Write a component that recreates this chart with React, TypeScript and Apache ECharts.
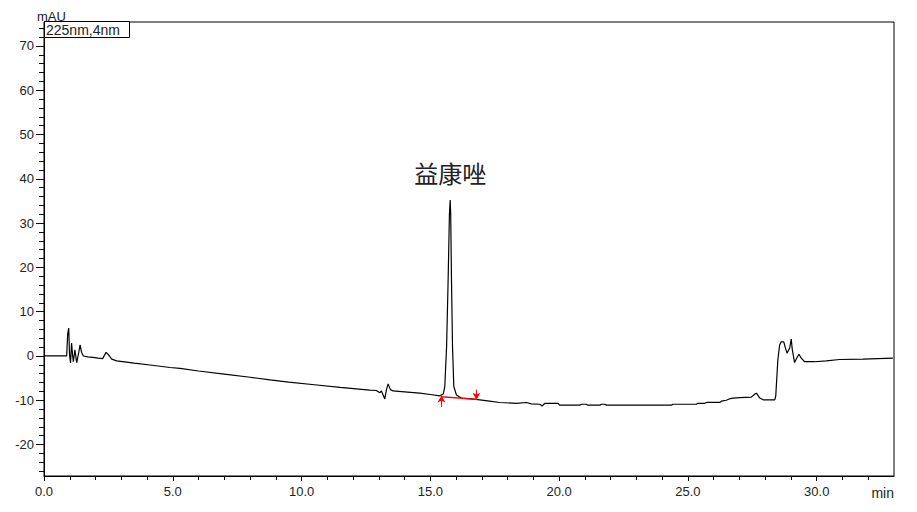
import React, { useEffect, useRef } from "react";
import * as echarts from "echarts";

// Chromatogram trace: [time (min), absorbance (mAU)]
const trace: [number, number][] = [
  [0, 0], [0.5, 0], [0.88, 0], [0.92, 5.0], [0.96, 6.3], [0.99, 0.5], [1.03, -1.6],
  [1.07, 2.9], [1.11, 0.2], [1.14, -1.3], [1.2, 1.4], [1.27, -1.5], [1.34, 0.5],
  [1.4, 2.5], [1.46, 0.8], [1.53, 0.0], [1.7, -0.2], [1.9, -0.3], [2.1, -0.5],
  [2.28, -0.6], [2.35, 0.2], [2.41, 0.8], [2.5, 0.3], [2.63, -0.7], [2.82, -1.1],
  [3.5, -1.6], [4.2, -2.1], [4.89, -2.6], [5.28, -2.8], [6.0, -3.4], [7.0, -4.1],
  [8.0, -4.8], [8.77, -5.4], [9.5, -5.9], [10.5, -6.5], [11.5, -7.1], [12.65, -7.7],
  [12.9, -7.8], [13.04, -8.3], [13.1, -7.9], [13.23, -9.7], [13.3, -7.5], [13.36, -6.3],
  [13.45, -7.6], [13.55, -7.9], [14.0, -8.1], [14.59, -8.4], [15.0, -8.7], [15.37, -9.0],
  [15.5, -8.6], [15.56, -6.9], [15.63, 2.1], [15.69, 17.2], [15.74, 32.0], [15.77, 35.2],
  [15.79, 32.0], [15.82, 17.2], [15.86, 2.1], [15.91, -6.9], [16.01, -8.8], [16.2, -9.5],
  [16.6, -9.7], [16.92, -9.9], [17.3, -10.2], [17.69, -10.5], [18.34, -10.7], [18.73, -10.5],
  [18.92, -10.8], [19.25, -10.9], [19.34, -11.3], [19.44, -10.7], [19.96, -10.7],
  [20.02, -11.1], [20.8, -11.1], [20.87, -10.9], [21.06, -10.9], [21.1, -11.1],
  [21.58, -11.1], [21.64, -10.9], [21.77, -10.9], [21.84, -11.1], [24.36, -11.1],
  [24.42, -10.9], [25.33, -10.9], [25.38, -10.7], [25.65, -10.7], [25.72, -10.5],
  [26.23, -10.5], [26.3, -10.2], [26.49, -10.0], [26.6, -9.7], [26.75, -9.5], [27.01, -9.4],
  [27.46, -9.3], [27.6, -8.6], [27.66, -8.4], [27.79, -9.5], [27.92, -9.9], [28.37, -9.9],
  [28.41, -9.0], [28.49, -0.9], [28.56, 2.5], [28.62, 3.2], [28.72, 3.2], [28.8, 1.5],
  [28.85, 0.6], [28.95, 1.8], [29.01, 3.8], [29.05, 1.5], [29.14, -1.5], [29.22, -0.5],
  [29.31, 0.4], [29.4, -0.5], [29.53, -1.3], [29.92, -1.3], [30.37, -1.1], [30.89, -0.8],
  [31.79, -0.7], [32.96, -0.5],
];

// Integration baseline of the labelled peak: start and end [time, mAU]
const integStart: [number, number] = [15.43, -9.2];
const integEnd: [number, number] = [16.79, -9.8];

const peakName = "益康唑";
const peakTime = 15.77;
const peakLabelValue = 41.5;

const xMajorTicks = [0, 5, 10, 15, 20, 25, 30];
const xMinorTicks = [1, 2, 3, 4, 6, 7, 8, 9, 11, 12, 13, 14, 16, 17, 18, 19, 21, 22, 23, 24, 26, 27, 28, 29, 31, 32];
const yMajorTicks = [-20, -10, 0, 10, 20, 30, 40, 50, 60, 70];
const yMinorTicks = [-26, -24, -22, -18, -16, -14, -12, -8, -6, -4, -2, 2, 4, 6, 8, 12, 14, 16, 18, 22, 24, 26, 28, 32, 34, 36, 38, 42, 44, 46, 48, 52, 54, 56, 58, 62, 64, 66, 68, 72, 74];

const X_MIN = 0;
const X_MAX = 33;
const Y_MIN = -27.1;
const Y_MAX = 75.4;

const FONT = "'Liberation Sans', Arial, sans-serif";

export default function App() {
  const ref = useRef<HTMLDivElement>(null);
  useEffect(() => {
    document.body.style.margin = "0";
    if (!ref.current) return;
    const chart = echarts.init(ref.current, undefined, { renderer: "svg" });
    chart.setOption({
      animation: false,
      backgroundColor: "#fff",
      textStyle: { fontFamily: FONT },
      grid: {
        left: 44,
        right: 23,
        top: 22,
        bottom: 36,
        show: true,
        borderColor: "#000",
        borderWidth: 1,
        backgroundColor: "transparent",
      },
      xAxis: [
        {
          type: "value",
          min: X_MIN,
          max: X_MAX,
          position: "bottom",
          splitLine: { show: false },
          axisLine: { onZero: false, lineStyle: { color: "#000", width: 1 } },
          axisTick: { customValues: xMajorTicks, length: 5, lineStyle: { color: "#000" } },
          axisLabel: {
            customValues: xMajorTicks,
            formatter: (v: number) => v.toFixed(1),
            color: "#222",
            fontSize: 13,
            fontFamily: FONT,
            margin: 9,
          },
        },
        {
          type: "value",
          min: X_MIN,
          max: X_MAX,
          position: "bottom",
          splitLine: { show: false },
          axisLine: { show: false, onZero: false },
          axisTick: { customValues: xMinorTicks, length: 4, lineStyle: { color: "#000" } },
          axisLabel: { show: false },
        },
      ],
      yAxis: [
        {
          type: "value",
          min: Y_MIN,
          max: Y_MAX,
          position: "left",
          splitLine: { show: false },
          axisLine: { show: true, onZero: false, lineStyle: { color: "#000", width: 1 } },
          axisTick: { show: true, customValues: yMajorTicks, length: 8, lineStyle: { color: "#000" } },
          axisLabel: {
            customValues: yMajorTicks,
            color: "#222",
            fontSize: 13,
            fontFamily: FONT,
            margin: 10,
          },
        },
        {
          type: "value",
          min: Y_MIN,
          max: Y_MAX,
          position: "left",
          splitLine: { show: false },
          axisLine: { show: false, onZero: false },
          axisTick: { show: true, customValues: yMinorTicks, length: 5, lineStyle: { color: "#000" } },
          axisLabel: { show: false },
        },
      ],
      series: [
        {
          type: "line",
          name: "225nm,4nm",
          data: trace,
          showSymbol: false,
          symbol: "none",
          lineStyle: { color: "#000", width: 1.2 },
          xAxisIndex: 0,
          yAxisIndex: 0,
          z: 3,
        },
        {
          type: "line",
          name: "baseline",
          data: [integStart, integEnd],
          symbol: "none",
          lineStyle: { color: "#ff0000", width: 1.5 },
          xAxisIndex: 0,
          yAxisIndex: 0,
          z: 4,
          markLine: {
            silent: true,
            animation: false,
            symbolSize: [6, 7],
            label: { show: false },
            lineStyle: { color: "#ff0000", type: "solid", width: 1 },
            data: [
              [
                { coord: [integStart[0], integStart[1] - 2.3], symbol: "none" },
                { coord: [integStart[0], integStart[1] + 0.3], symbol: "arrow" },
              ],
              [
                { coord: [integEnd[0], integEnd[1] + 2.2], symbol: "none" },
                { coord: [integEnd[0], integEnd[1] - 0.1], symbol: "arrow" },
              ],
            ],
          },
          markPoint: {
            silent: true,
            symbol: "circle",
            symbolSize: 0,
            itemStyle: { color: "transparent" },
            label: {
              show: true,
              formatter: peakName,
              color: "#222",
              fontSize: 24,
              fontFamily: "'Noto Sans CJK SC', sans-serif",
              position: "inside",
            },
            data: [{ coord: [peakTime, peakLabelValue] }],
          },
        },
      ],
      graphic: [
        {
          type: "text",
          left: 37,
          top: 10,
          style: { text: "mAU", fontSize: 13, fontFamily: FONT, fill: "#222" },
        },
        {
          type: "rect",
          shape: { x: 44.5, y: 21.5, width: 85, height: 16 },
          style: { fill: "#fff", stroke: "#000", lineWidth: 1 },
          z: 10,
        },
        {
          type: "text",
          x: 46,
          y: 30,
          style: {
            text: "225nm,4nm",
            fontSize: 14,
            fontFamily: FONT,
            fill: "#222",
            verticalAlign: "middle",
          },
          z: 11,
        },
        {
          type: "text",
          x: 894,
          y: 493,
          style: {
            text: "min",
            fontSize: 14,
            fontFamily: FONT,
            fill: "#222",
            align: "right",
            verticalAlign: "middle",
          },
        },
      ],
    });
    return () => chart.dispose();
  }, []);
  return <div ref={ref} style={{ width: 917, height: 512 }} />;
}
